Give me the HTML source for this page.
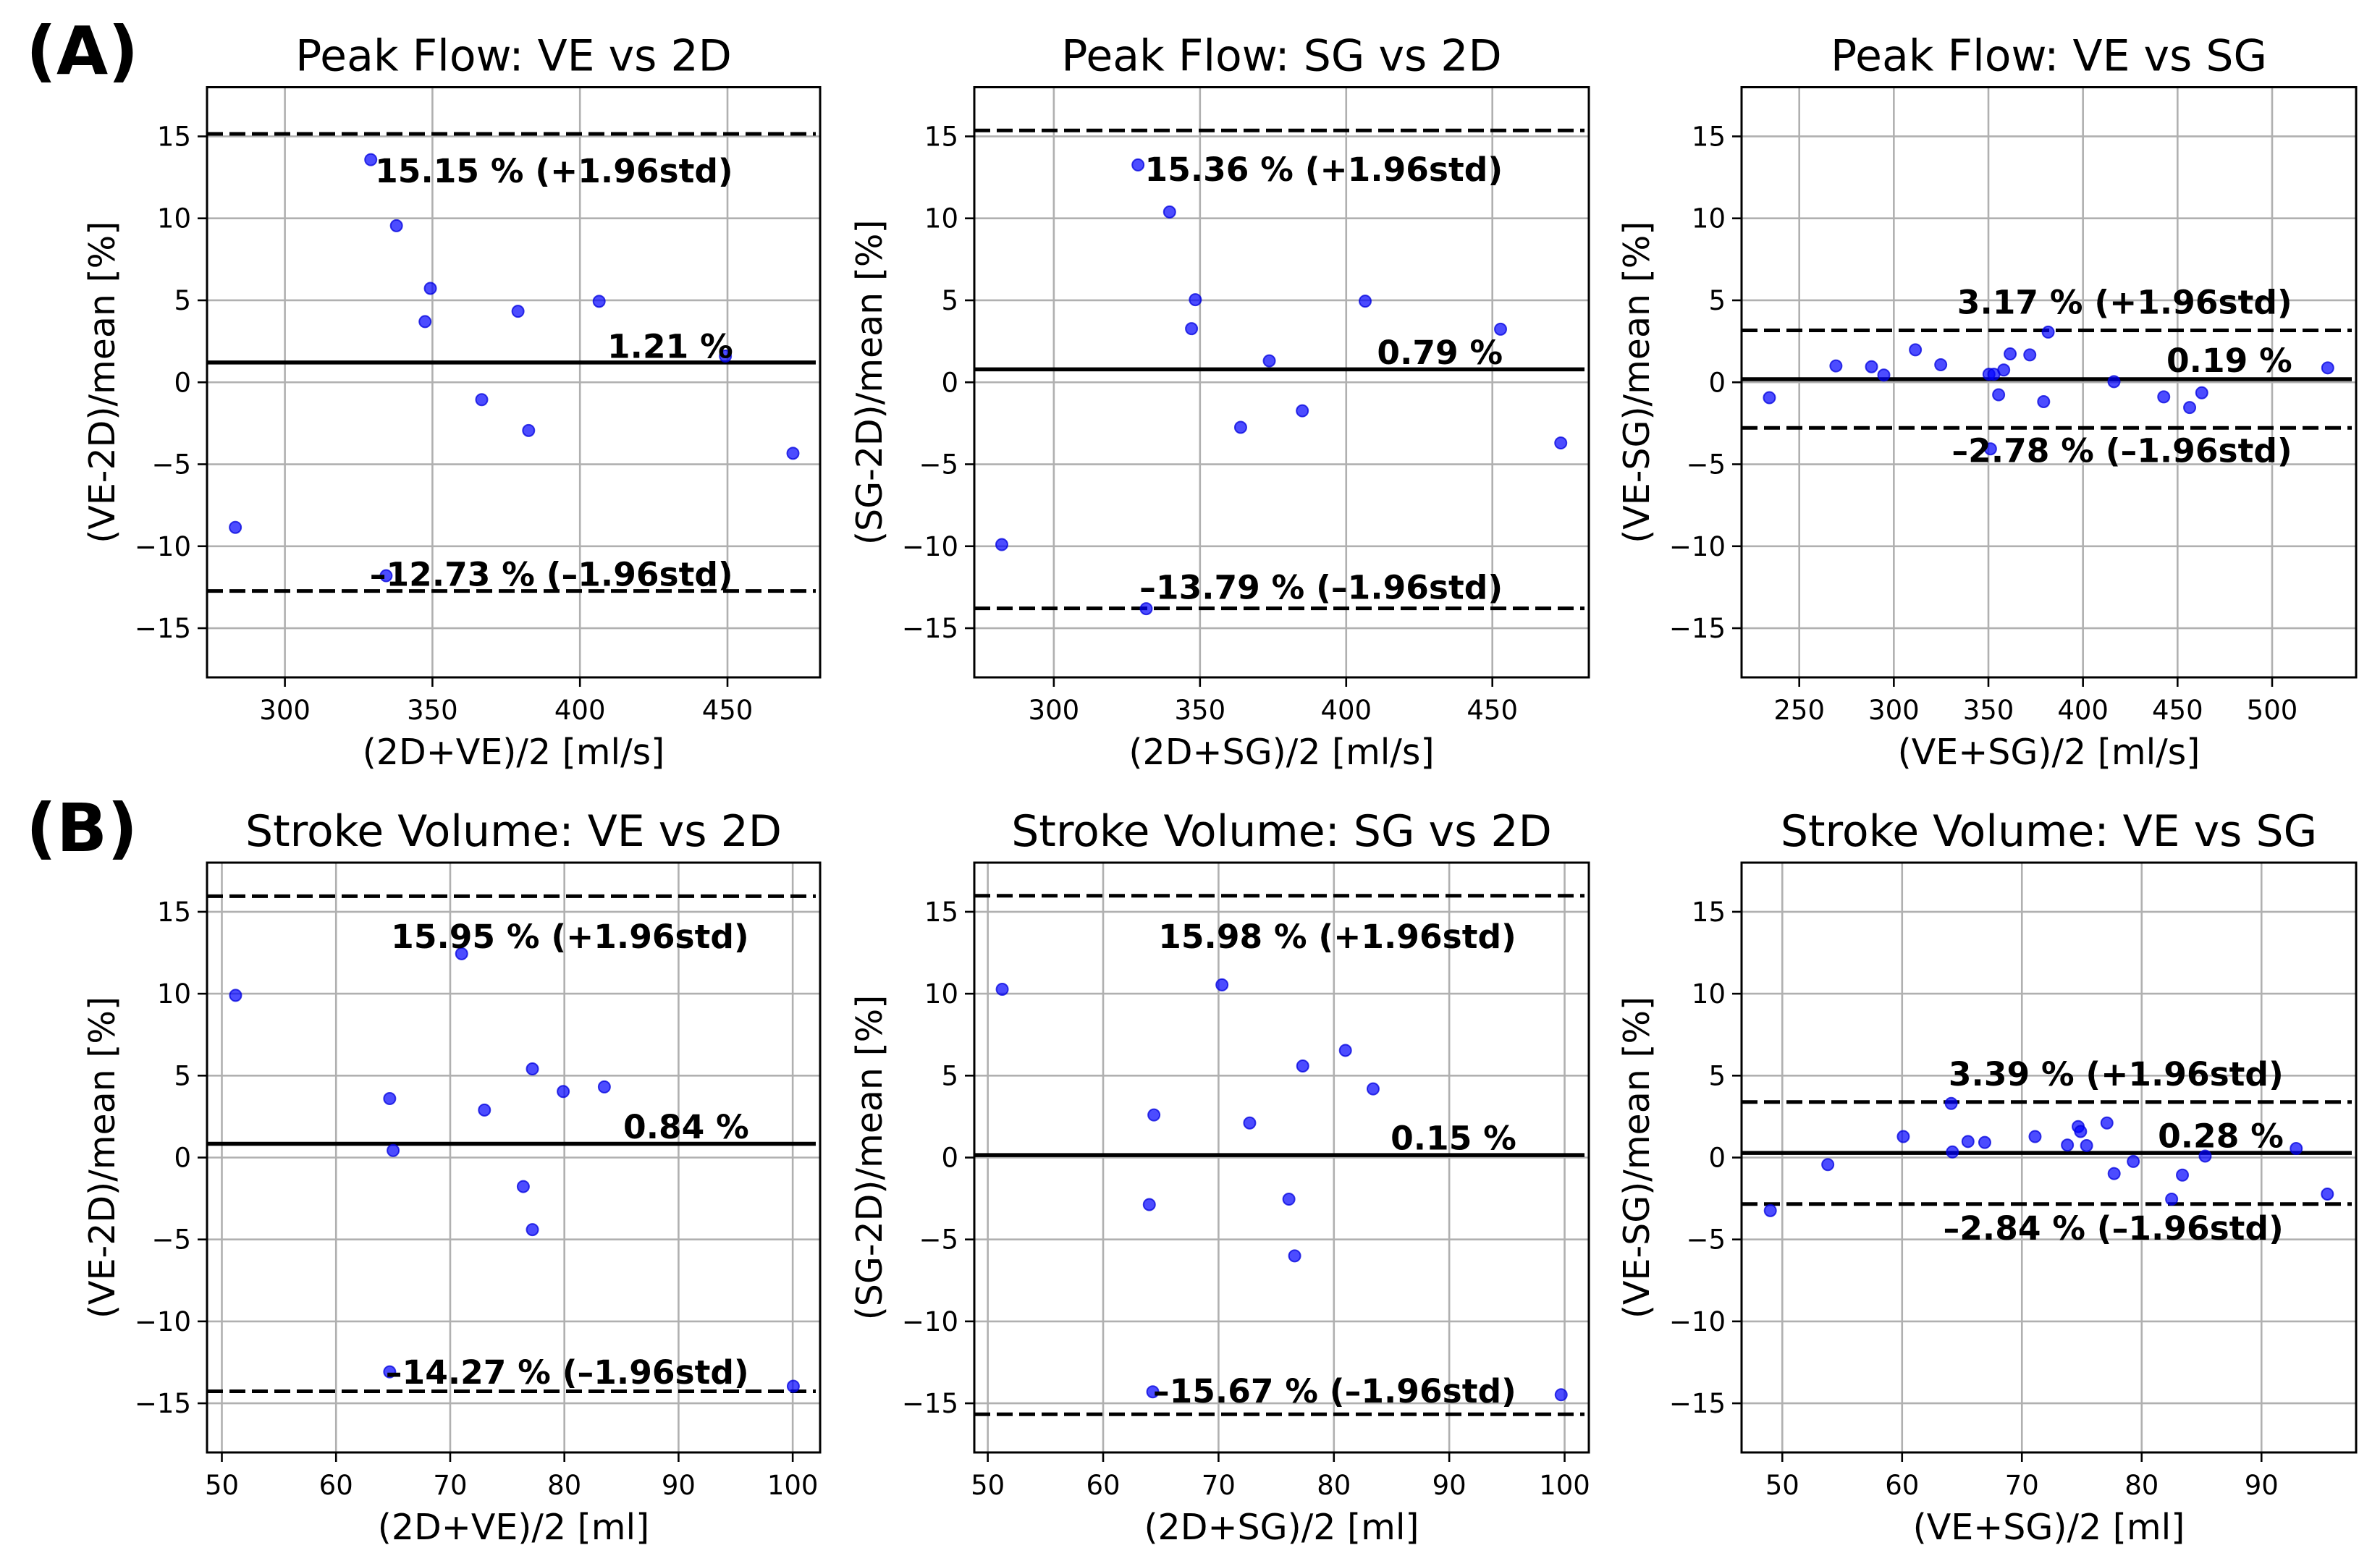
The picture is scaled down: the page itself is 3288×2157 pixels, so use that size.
<!DOCTYPE html>
<html><head><meta charset="utf-8">
<style>
html,body{margin:0;padding:0;background:#fff;}
svg{display:block;font-family:"DejaVu Sans","Liberation Sans",sans-serif;}
</style></head>
<body>
<svg id="fig" width="3288" height="2157" viewBox="0 0 3288 2157" xmlns="http://www.w3.org/2000/svg">
<rect width="3288" height="2157" fill="#fff"/>
<text x="36" y="102" font-size="92" font-weight="bold">(A)</text>
<text x="36" y="1176" font-size="92" font-weight="bold">(B)</text>
</svg>
<script>
// ---- data ----
const pfVe2dX = [283.2,329.1,337.8,349.3,347.5,379,406.5,449.3,366.7,382.6,472.2,334.3];
const pfVe2dY = [-8.85,13.58,9.55,5.73,3.7,4.33,4.94,1.6,-1.06,-2.94,-4.33,-11.8];
const pfVe2dLines = [15.15,1.21,-12.73];
const pfSg2dX = [328.8,339.6,348.4,347.1,406.5,452.8,373.7,363.9,385.0,473.4,282.2,331.6];
const pfSg2dY = [13.26,10.39,5.04,3.27,4.95,3.24,1.31,-2.75,-1.74,-3.70,-9.9,-13.81];
const pfSg2dLines = [15.36,0.79,-13.79];
const pfVeSgX = [234.2,269.4,288.2,294.7,311.4,324.8,350.3,352.9,358.1,361.5,355.4,371.9,381.6,379.2,416.4,442.7,456.4,462.8,529.4,351.1];
const pfVeSgY = [-0.94,1.0,0.95,0.44,1.98,1.07,0.49,0.49,0.75,1.73,-0.76,1.67,3.06,-1.18,0.04,-0.89,-1.54,-0.64,0.88,-4.06];
const pfVeSgLines = [3.17,0.19,-2.78];
const svVe2dX = [51.2,71.0,64.7,65.0,73.0,77.2,79.9,83.5,76.4,77.2,64.7,100.05];
const svVe2dY = [9.9,12.44,3.6,0.43,2.9,5.41,4.03,4.31,-1.77,-4.4,-13.08,-13.96];
const svVe2dLines = [15.95,0.84,-14.27];
const svSg2dX = [51.25,70.3,64.4,72.7,77.3,81.0,83.4,64.0,76.1,76.6,64.3,99.7];
const svSg2dY = [10.27,10.54,2.6,2.11,5.59,6.54,4.19,-2.87,-2.54,-6.0,-14.3,-14.48];
const svSg2dLines = [15.98,0.15,-15.67];
const svVeSgX = [49.0,53.8,60.1,64.1,64.2,65.5,66.9,71.1,73.8,74.7,74.9,75.4,77.1,77.7,79.3,82.5,83.4,85.3,92.9,95.5];
const svVeSgY = [-3.24,-0.43,1.28,3.30,0.34,0.98,0.92,1.28,0.76,1.89,1.59,0.73,2.11,-0.98,-0.24,-2.54,-1.07,0.09,0.55,-2.23];
const svVeSgLines = [3.39,0.28,-2.84];
const pfTicks = [300,350,400,450];
const pfTicksVeSg = [250,300,350,400,450,500];
const svTicks = [50,60,70,80,90,100];
const svTicksVeSg = [50,60,70,80,90];
const yTicks = [-15,-10,-5,0,5,10,15];

const NS = "http://www.w3.org/2000/svg";
const svg = document.getElementById('fig');
function mk(tag, attrs, parent, txt){
  const e = document.createElementNS(NS, tag);
  for (const k in attrs) e.setAttribute(k, attrs[k]);
  if (txt !== undefined) e.textContent = txt;
  (parent||svg).appendChild(e);
  return e;
}
function fmt(v){ return v < 0 ? '\u2212' + Math.abs(v) : String(v); }

const panels = [
  {id:'pf-ve-2d', title:'Peak Flow: VE vs 2D', xl:'(2D+VE)/2 [ml/s]', yl:'(VE-2D)/mean [%]', L:286,R:1133,T:120.5,B:936, x0:273.6,x1:481.4, xs:pfVe2dX, ys:pfVe2dY, lines:pfVe2dLines, ticks:pfTicks, tf:0.858, ty:[12.9,2.2,-11.7]},
  {id:'pf-sg-2d', title:'Peak Flow: SG vs 2D', xl:'(2D+SG)/2 [ml/s]', yl:'(SG-2D)/mean [%]', L:1346,R:2195,T:120.5,B:936, x0:272.8,x1:483, xs:pfSg2dX, ys:pfSg2dY, lines:pfSg2dLines, ticks:pfTicks, tf:0.86, ty:[13.0,1.82,-12.5]},
  {id:'pf-ve-sg', title:'Peak Flow: VE vs SG', xl:'(VE+SG)/2 [ml/s]', yl:'(VE-SG)/mean [%]', L:2406,R:3255,T:120.5,B:936, x0:219.5,x1:544.4, xs:pfVeSgX, ys:pfVeSgY, lines:pfVeSgLines, ticks:pfTicksVeSg, tf:0.896, ty:[4.9,1.34,-4.15]},
  {id:'sv-ve-2d', title:'Stroke Volume: VE vs 2D', xl:'(2D+VE)/2 [ml]', yl:'(VE-2D)/mean [%]', L:286,R:1133,T:1192,B:2007, x0:48.7,x1:102.4, xs:svVe2dX, ys:svVe2dY, lines:svVe2dLines, ticks:svTicks, tf:0.884, ty:[13.5,1.88,-13.1]},
  {id:'sv-sg-2d', title:'Stroke Volume: SG vs 2D', xl:'(2D+SG)/2 [ml]', yl:'(SG-2D)/mean [%]', L:1346,R:2195,T:1192,B:2007, x0:48.83,x1:102.1, xs:svSg2dX, ys:svSg2dY, lines:svSg2dLines, ticks:svTicks, tf:0.882, ty:[13.5,1.2,-14.25]},
  {id:'sv-ve-sg', title:'Stroke Volume: VE vs SG', xl:'(VE+SG)/2 [ml]', yl:'(VE-SG)/mean [%]', L:2406,R:3255,T:1192,B:2007, x0:46.6,x1:97.9, xs:svVeSgX, ys:svVeSgY, lines:svVeSgLines, ticks:svTicksVeSg, tf:0.882, ty:[5.1,1.33,-4.3]}
];

panels.forEach(p => {
  const g = mk('g', {});
  
  
  const sx = v => p.L + (v - p.x0) / (p.x1 - p.x0) * (p.R - p.L);
  const sy = v => p.T + (18 - v) / 36 * (p.B - p.T);
  const cx = (p.L + p.R) / 2;
  p.ticks.forEach(t => {
    const gl = mk('line', {x1:sx(t),x2:sx(t),y1:p.T,y2:p.B,stroke:'#b0b0b0','stroke-width':2.6}, g);
    
    
    const tk = mk('line', {x1:sx(t),x2:sx(t),y1:p.B,y2:p.B+13,stroke:'#000','stroke-width':2.6}, g);
    
    
    const tl = mk('text', {x:sx(t),y:p.B+58,'font-size':37,'text-anchor':'middle'}, g, fmt(t));
    
    
  });
  yTicks.forEach(t => {
    const gl = mk('line', {x1:p.L,x2:p.R,y1:sy(t),y2:sy(t),stroke:'#b0b0b0','stroke-width':2.6}, g);
    
    
    const tk = mk('line', {x1:p.L-13,x2:p.L,y1:sy(t),y2:sy(t),stroke:'#000','stroke-width':2.6}, g);
    
    
    const tl = mk('text', {x:p.L-22,y:sy(t)+13,'font-size':37,'text-anchor':'end'}, g, fmt(t));
    
    
  });
  const names = ['upper-loa-line','mean-bias-line','lower-loa-line'];
  p.lines.forEach((v,i) => {
    const ln = mk('line', {x1:p.L,x2:p.R-6,y1:sy(v),y2:sy(v),stroke:'#000','stroke-width': i===1?5.5:5, 'stroke-dasharray': i===1?'none':'22 9'}, g);
    
    
  });
  p.xs.forEach((x,i) => {
    const c = mk('circle', {cx:sx(x),cy:sy(p.ys[i]),r:8,fill:'rgba(0,0,255,0.7)',stroke:'rgba(0,0,220,0.75)','stroke-width':2}, g);
    
    
  });
  const labels = [p.lines[0].toFixed(2)+' % (+1.96std)', p.lines[1].toFixed(2)+' %', fmt(p.lines[2].toFixed(2)).replace('\u2212','\u2013')+' % (\u20131.96std)'];
  const anames = ['upper-loa-label','mean-bias-label','lower-loa-label'];
  labels.forEach((s,i) => {
    const t = mk('text', {x:p.L + p.tf*(p.R-p.L), y:sy(p.ty[i])+16, 'font-size':45.5,'font-weight':'bold','text-anchor':'end'}, g, s);
    
    
  });
  const fr = mk('rect', {x:p.L,y:p.T,width:p.R-p.L,height:p.B-p.T,fill:'none',stroke:'#000','stroke-width':3}, g);
  
  
  const ti = mk('text', {x:cx,y:p.T-23,'font-size':60,'text-anchor':'middle'}, g, p.title);
  
  
  const xl = mk('text', {x:cx,y:p.B+120,'font-size':49,'text-anchor':'middle'}, g, p.xl);
  
  
  const yc = (p.T+p.B)/2, yx = p.L-128;
  const yl = mk('text', {x:yx,y:yc,'font-size':49,'text-anchor':'middle',transform:'rotate(-90 '+yx+' '+yc+')'}, g, p.yl);
  
  
});
</script>
</body></html>
